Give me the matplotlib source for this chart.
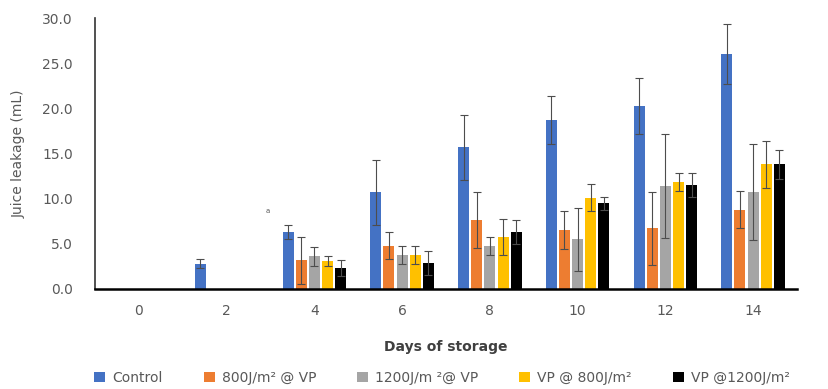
import numpy as np
import matplotlib
matplotlib.use('Agg')
import matplotlib.pyplot as plt

# data
days = ['0', '2', '4', '6', '8', '10', '12', '14']
series = ['Control', '800J/m² @ VP', '1200J/m ²@ VP', 'VP @ 800J/m²', 'VP @1200J/m²']
colors = ['#4472C4', '#ED7D31', '#A5A5A5', '#FFC000', '#000000']

control = [0, 2.8, 6.3, 10.7, 15.7, 18.7, 20.3, 26.0]
control_err = [0, 0.5, 0.8, 3.6, 3.6, 2.7, 3.1, 3.3]
uv800_vp = [0, 0, 3.2, 4.8, 7.6, 6.5, 6.7, 8.8]
uv800_vp_err = [0, 0, 2.6, 1.5, 3.1, 2.1, 4.0, 2.1]
uv1200_vp = [0, 0, 3.6, 3.8, 4.8, 5.5, 11.4, 10.7]
uv1200_vp_err = [0, 0, 1.0, 1.0, 1.0, 3.5, 5.8, 5.3]
vp_uv800 = [0, 0, 3.1, 3.8, 5.8, 10.1, 11.8, 13.8]
vp_uv800_err = [0, 0, 0.6, 1.0, 2.0, 1.5, 1.0, 2.6]
vp_uv1200 = [0, 0, 2.3, 2.9, 6.3, 9.5, 11.5, 13.8]
vp_uv1200_err = [0, 0, 0.9, 1.3, 1.3, 0.7, 1.3, 1.6]

values = [control, uv800_vp, uv1200_vp, vp_uv800, vp_uv1200]
errors = [control_err, uv800_vp_err, uv1200_vp_err, vp_uv800_err, vp_uv1200_err]

fig = plt.figure(figsize=(8.29, 3.89), dpi=100)
ax = fig.add_axes([95/829, 100/389, 702/829, 271/389])

x = np.arange(len(days))
width = 0.125
step = 0.15
txtcol = '#595959'

for i, (vals, errs, col, name) in enumerate(zip(values, errors, colors, series)):
    vals = np.array(vals, dtype=float)
    errs = np.array(errs, dtype=float)
    pos = x + (i - 2)*step
    ax.bar(pos, vals, width, color=col, label=name, zorder=2)
    mask = vals > 0
    ax.errorbar(pos[mask], vals[mask], yerr=errs[mask], fmt='none',
                ecolor='#4d4d4d', elinewidth=0.8, capsize=3, capthick=0.8, zorder=3)

# small letter left of the day-4 group
ax.text(1.47, 8.6, 'a', fontsize=5, color=txtcol, ha='center', va='center')

ax.set_xlim(-0.5, len(days) - 0.5)
ax.set_ylim(0, 30)
ax.set_yticks(np.arange(0, 30.1, 5))
ax.set_yticklabels([f'{v:.1f}' for v in np.arange(0, 30.1, 5)])
ax.set_xticks(x)
ax.set_xticklabels(days)
ax.tick_params(length=0, labelsize=10, labelcolor=txtcol)
ax.tick_params(axis='x', pad=11)
ax.tick_params(axis='y', pad=16)

for s in ['top', 'right']:
    ax.spines[s].set_visible(False)
ax.spines['left'].set_color('#333333')
ax.spines['left'].set_linewidth(1.2)
ax.spines['bottom'].set_color('black')
ax.spines['bottom'].set_linewidth(1.8)

ax.set_ylabel('Juice leakage (mL)', fontsize=10, color=txtcol, labelpad=12)
ax.set_xlabel('Days of storage', fontsize=10, color='#404040', fontweight='bold', labelpad=16)

fig.legend(loc='center', bbox_to_anchor=(442/829, 1 - 378/389), ncol=5, frameon=False,
           fontsize=10, handlelength=0.8, handleheight=0.8, handletextpad=0.5,
           columnspacing=2.95, labelcolor=txtcol)

fig.savefig('out.png', dpi=100)
